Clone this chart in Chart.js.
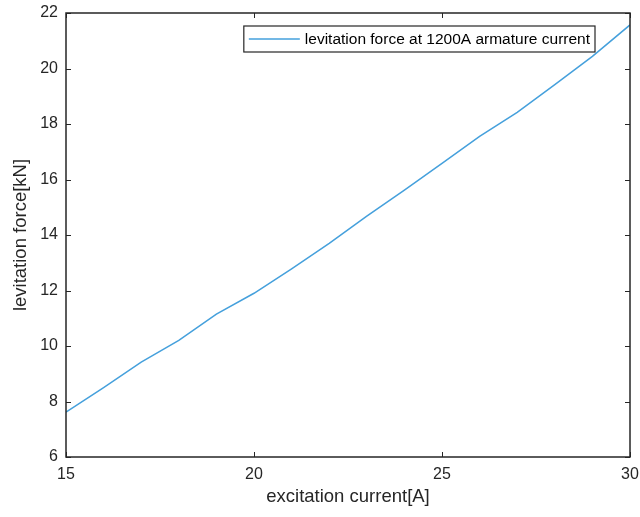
<!DOCTYPE html>
<html>
<head>
<meta charset="utf-8">
<script src="https://cdn.jsdelivr.net/npm/chart.js@4.4.1/dist/chart.umd.min.js"></script>
<style>
  html, body { margin: 0; padding: 0; background: #ffffff; }
  #wrap { width: 640px; height: 517px; }
</style>
</head>
<body>
<div id="wrap"><canvas id="c" width="640" height="517"></canvas></div>
<script>
// Excitation current [A] and the matching levitation force [kN]
const excitationCurrent = [15, 16, 17, 18, 19, 20, 21, 22, 23, 24, 25, 26, 27, 28, 29, 30];
const levitationForce = [7.62, 8.5, 9.42, 10.2, 11.15, 11.9, 12.78, 13.7, 14.68, 15.62, 16.58, 17.55, 18.42, 19.42, 20.44, 21.57];
const seriesLabel = 'levitation force at 1200A armature current';
const xTitle = 'excitation current[A]';
const yTitle = 'levitation force[kN]';

const axisColor = '#262626';
const lineColor = '#45a0dc';
const fontFamily = '"Liberation Sans", Arial, Helvetica, sans-serif';

// Box around the plot area with short inward ticks on all four sides
const frameAndTicks = {
  id: 'frameAndTicks',
  afterDraw(chart) {
    const { ctx, chartArea: a, scales } = chart;
    const len = 5;
    ctx.save();
    ctx.strokeStyle = axisColor;
    ctx.lineWidth = 1;
    ctx.beginPath();
    scales.x.ticks.forEach(t => {
      const px = Math.round(scales.x.getPixelForValue(t.value)) + 0.5;
      ctx.moveTo(px, a.bottom); ctx.lineTo(px, a.bottom - len);
      ctx.moveTo(px, a.top); ctx.lineTo(px, a.top + len);
    });
    scales.y.ticks.forEach(t => {
      const py = Math.round(scales.y.getPixelForValue(t.value)) + 0.5;
      ctx.moveTo(a.left, py); ctx.lineTo(a.left + len, py);
      ctx.moveTo(a.right, py); ctx.lineTo(a.right - len, py);
    });
    ctx.stroke();
    ctx.lineWidth = 1.5;
    ctx.strokeRect(a.left, a.top, a.right - a.left, a.bottom - a.top);
    ctx.restore();
  }
};

// Legend box in the upper right of the plot
const boxedLegend = {
  id: 'boxedLegend',
  afterDraw(chart) {
    const { ctx, chartArea: a } = chart;
    const ds = chart.data.datasets[0];
    const right = a.right - 35, top = a.top + 13, h = 26;
    ctx.save();
    ctx.font = '15.5px ' + fontFamily;
    const tw = ctx.measureText(ds.label).width;
    const sample = 51;
    const w = 5 + sample + 5 + tw + 5;
    const left = right - w;
    ctx.fillStyle = '#ffffff';
    ctx.fillRect(left, top, w, h);
    ctx.strokeStyle = axisColor;
    ctx.lineWidth = 1.2;
    ctx.strokeRect(left, top, w, h);
    const cy = top + h / 2;
    ctx.strokeStyle = ds.borderColor;
    ctx.lineWidth = 1.5;
    ctx.beginPath();
    ctx.moveTo(left + 5, cy); ctx.lineTo(left + 5 + sample, cy);
    ctx.stroke();
    ctx.fillStyle = '#000000';
    ctx.textBaseline = 'middle';
    ctx.fillText(ds.label, left + 5 + sample + 5, cy + 0.5);
    ctx.restore();
  }
};

new Chart(document.getElementById('c'), {
  type: 'line',
  data: {
    datasets: [{
      label: seriesLabel,
      data: excitationCurrent.map((x, i) => ({ x, y: levitationForce[i] })),
      borderColor: lineColor,
      backgroundColor: lineColor,
      borderWidth: 1.5,
      pointRadius: 0,
      tension: 0,
      fill: false
    }]
  },
  options: {
    responsive: false,
    animation: false,
    layout: { padding: { left: 0, right: 10, top: 13, bottom: 0 } },
    plugins: { legend: { display: false }, tooltip: { enabled: false } },
    scales: {
      x: {
        type: 'linear',
        min: 15, max: 30,
        grid: { display: false, drawTicks: false },
        border: { display: false },
        ticks: { stepSize: 5, color: axisColor, padding: 8, maxRotation: 0,
                 font: { family: fontFamily, size: 16 } },
        title: { display: true, text: xTitle, color: axisColor,
                 font: { family: fontFamily, size: 18.5 }, padding: { top: 0, bottom: 9 } },
        afterFit(s) { s.height = 60; s.paddingLeft = 0; s.paddingRight = 0; }
      },
      y: {
        type: 'linear',
        min: 6, max: 22,
        grid: { display: false, drawTicks: false },
        border: { display: false },
        ticks: { stepSize: 2, color: axisColor, padding: 8,
                 font: { family: fontFamily, size: 16 } },
        title: { display: true, text: yTitle, color: axisColor,
                 font: { family: fontFamily, size: 18.5 }, padding: { top: 10, bottom: 0 } },
        afterFit(s) { s.width = 66; s.paddingTop = 0; s.paddingBottom = 0; }
      }
    }
  },
  plugins: [frameAndTicks, boxedLegend]
});
</script>
</body>
</html>
